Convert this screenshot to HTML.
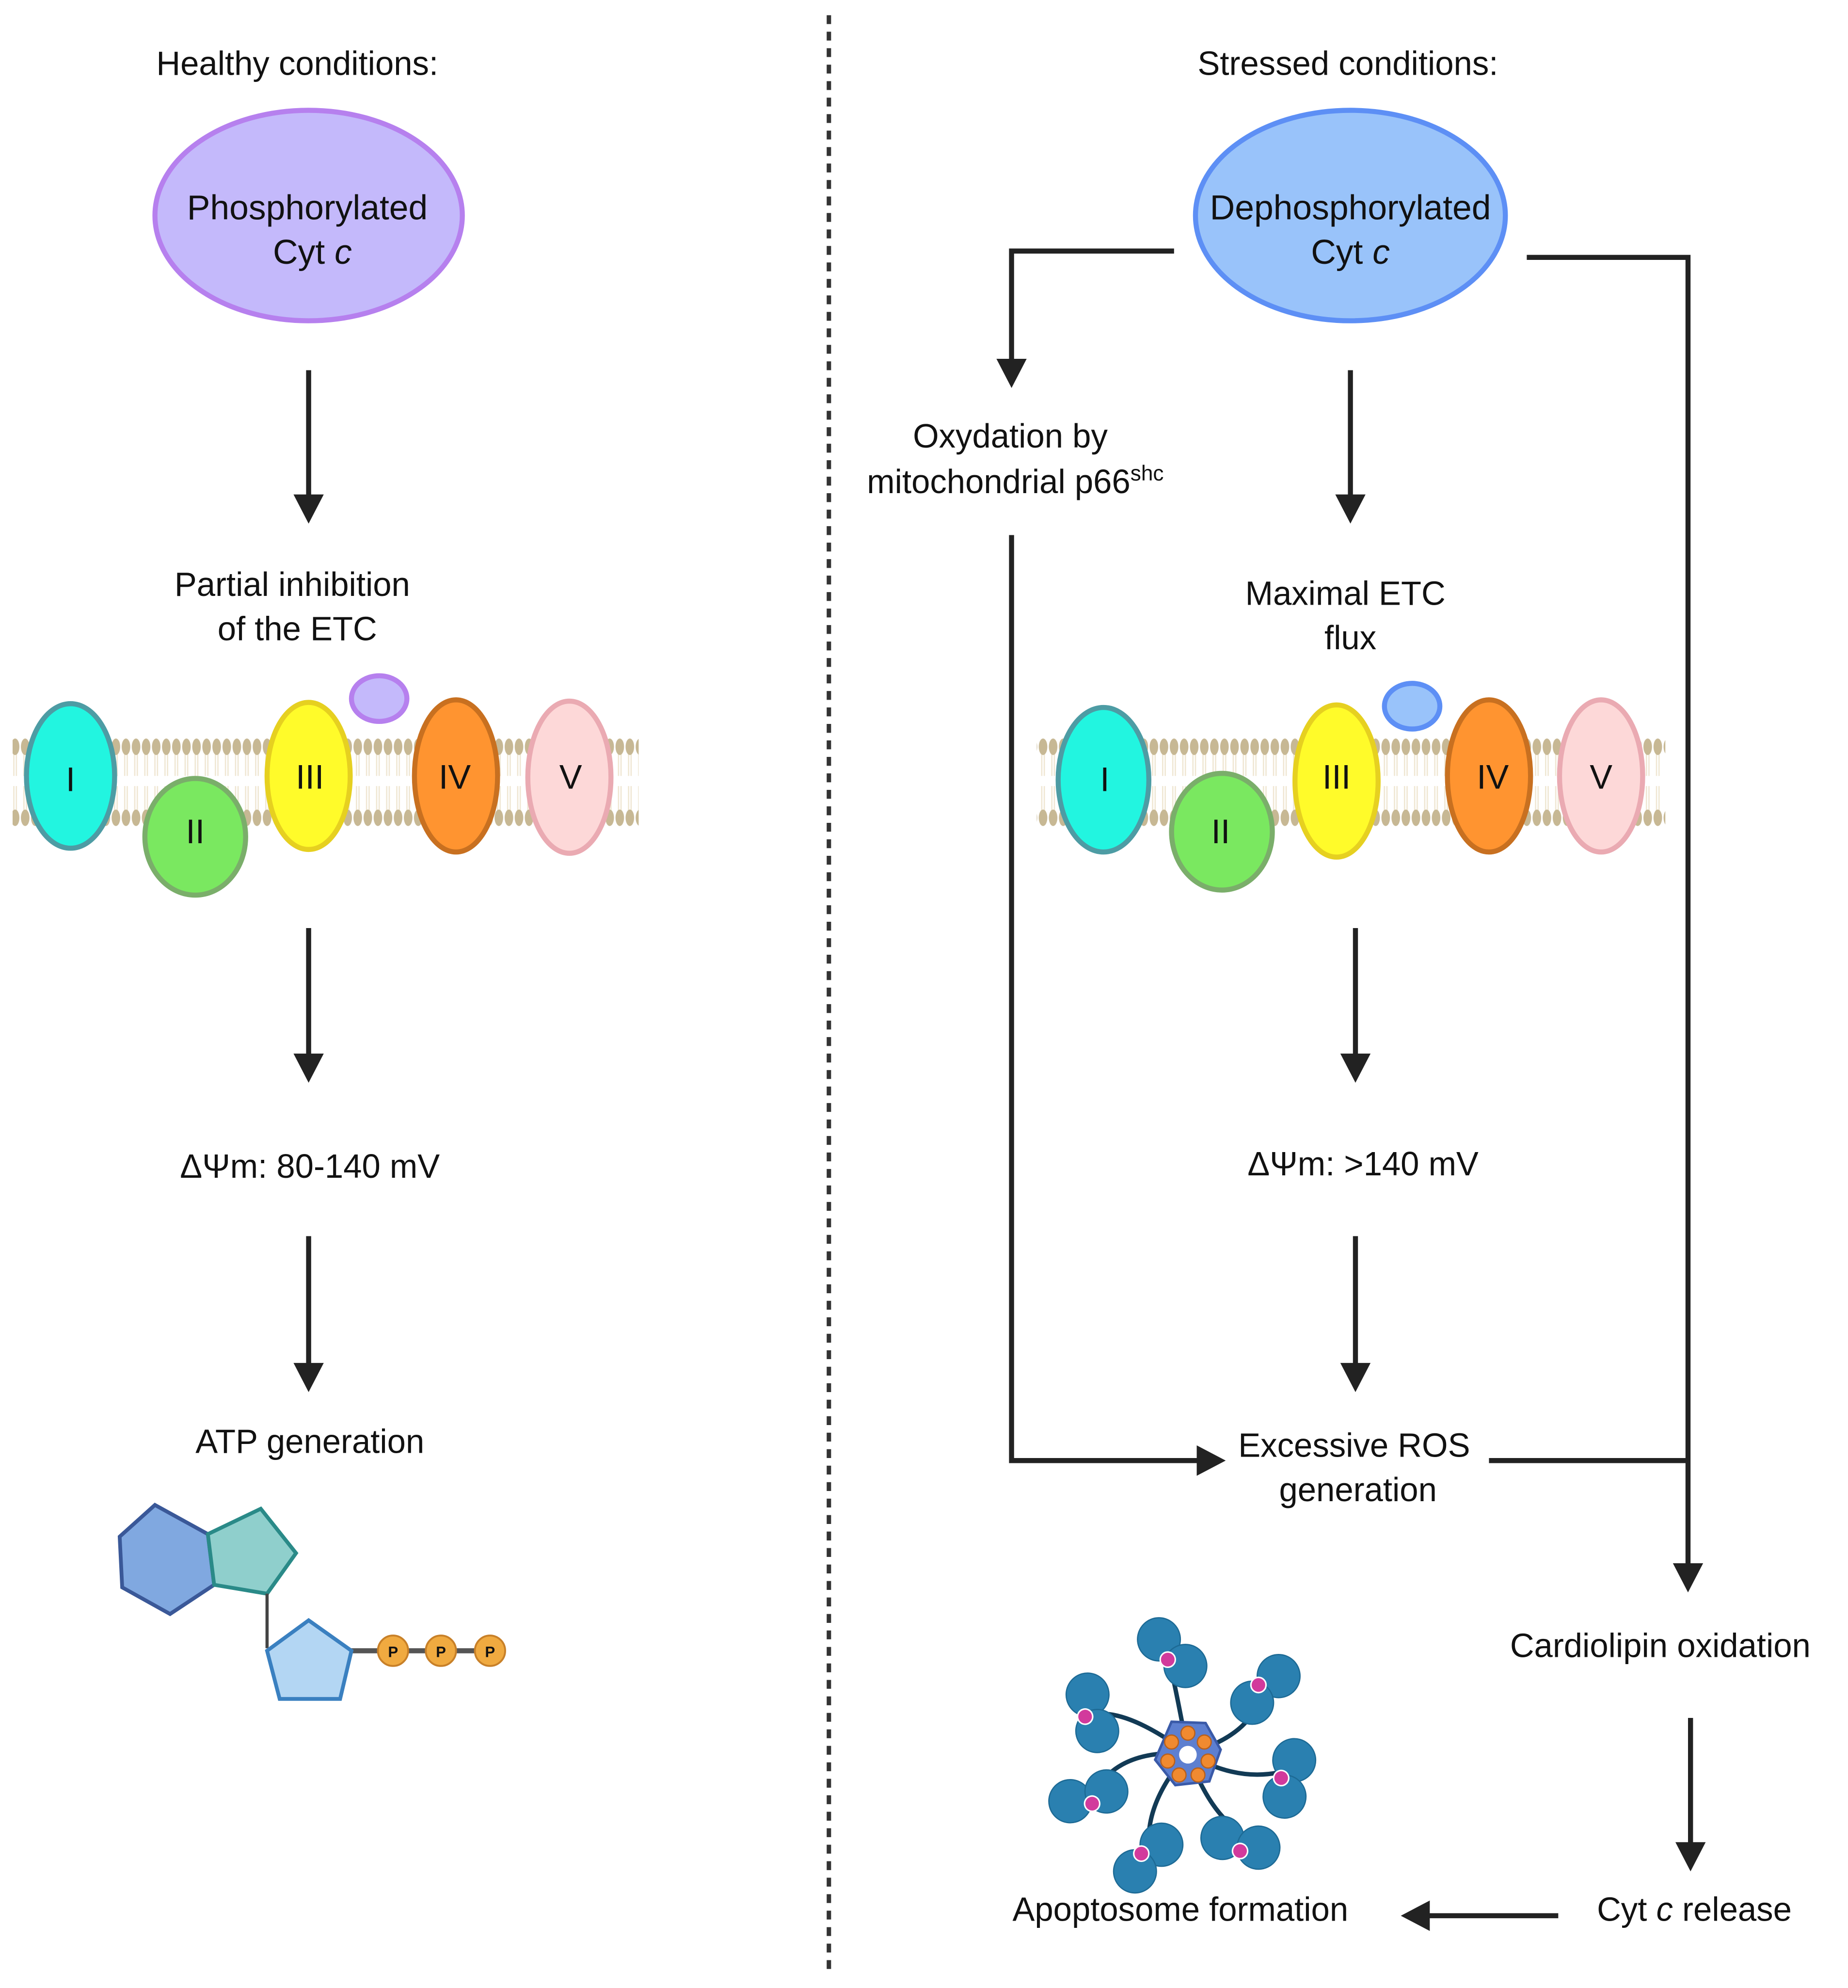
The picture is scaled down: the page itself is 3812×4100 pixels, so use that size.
<!DOCTYPE html>
<html><head><meta charset="utf-8"><style>
html,body{margin:0;padding:0;background:#fff;}
svg{display:block;}
text{font-family:"Liberation Sans",Arial,sans-serif;fill:#111;}
</style></head><body>
<svg width="3812" height="4100" viewBox="0 0 1467 1568" preserveAspectRatio="none" xmlns="http://www.w3.org/2000/svg">
<defs>
<pattern id="heads" x="0" y="582" width="8" height="70" patternUnits="userSpaceOnUse">
<line x1="3" y1="10" x2="3" y2="30" stroke="#efe6d2" stroke-width="1"/>
<line x1="5" y1="10" x2="5" y2="30" stroke="#efe6d2" stroke-width="1"/>
<line x1="3" y1="38" x2="3" y2="58" stroke="#efe6d2" stroke-width="1"/>
<line x1="5" y1="38" x2="5" y2="58" stroke="#efe6d2" stroke-width="1"/>
<ellipse cx="4" cy="7" rx="3.4" ry="6.5" fill="#c7b894"/>
<ellipse cx="4" cy="63" rx="3.4" ry="6.5" fill="#c7b894"/>
</pattern>
<g id="blob">
<circle cx="-10" cy="-12" r="17" fill="#2a80b0" stroke="#1d6a95" stroke-width="1"/>
<circle cx="11" cy="9" r="17" fill="#2a80b0" stroke="#1d6a95" stroke-width="1"/>
<circle cx="-3" cy="4" r="6" fill="#d23a9c" stroke="#fff" stroke-width="1.2"/>
</g>
</defs>
<rect width="1467" height="1568" fill="#fff"/>
<line x1="658" y1="12" x2="658" y2="1558" stroke="#333" stroke-width="3.5" stroke-dasharray="7,6"/>

<g font-size="26.5" text-anchor="middle">
<text x="236" y="59">Healthy conditions:</text>
<text x="1070" y="59">Stressed conditions:</text>
</g>

<ellipse cx="245" cy="170" rx="122" ry="83" fill="#c4b9fb" stroke="#b680ee" stroke-width="4"/>
<text x="244" y="173" font-size="27.5" text-anchor="middle">Phosphorylated</text>
<text x="248" y="208" font-size="27.5" text-anchor="middle">Cyt <tspan font-style="italic">c</tspan></text>
<ellipse cx="1072" cy="170" rx="123" ry="83" fill="#99c3fa" stroke="#5d8ff5" stroke-width="4"/>
<text x="1072" y="173" font-size="27.5" text-anchor="middle">Dephosphorylated</text>
<text x="1072" y="208" font-size="27.5" text-anchor="middle">Cyt <tspan font-style="italic">c</tspan></text>

<g stroke="#222" stroke-width="4" fill="none">
<line x1="245" y1="292" x2="245" y2="392"/>
<line x1="245" y1="732" x2="245" y2="833"/>
<line x1="245" y1="975" x2="245" y2="1077"/>
<line x1="1072" y1="292" x2="1072" y2="392"/>
<line x1="1076" y1="732" x2="1076" y2="833"/>
<line x1="1076" y1="975" x2="1076" y2="1077"/>
<polyline points="932,198 803,198 803,285"/>
<polyline points="1212,203 1340,203 1340,1235"/>
<polyline points="803,422 803,1152 952,1152"/>
<line x1="1182" y1="1152" x2="1340" y2="1152"/>
<line x1="1342" y1="1355" x2="1342" y2="1455"/>
<line x1="1237" y1="1511" x2="1133" y2="1511"/>
</g>
<g fill="#222">
<polygon points="233,390 257,390 245,413"/>
<polygon points="233,831 257,831 245,854"/>
<polygon points="233,1075 257,1075 245,1098"/>
<polygon points="1060,390 1084,390 1072,413"/>
<polygon points="1064,831 1088,831 1076,854"/>
<polygon points="1064,1075 1088,1075 1076,1098"/>
<polygon points="791,283 815,283 803,306"/>
<polygon points="1328,1233 1352,1233 1340,1256"/>
<polygon points="950,1140 950,1164 973,1152"/>
<polygon points="1330,1453 1354,1453 1342,1476"/>
<polygon points="1135,1499 1135,1523 1112,1511"/>
</g>

<g font-size="26.5" text-anchor="middle">
<text x="232" y="470">Partial inhibition</text>
<text x="236" y="505">of the ETC</text>
<text x="802" y="353">Oxydation by</text>
<text x="806" y="389">mitochondrial p66<tspan font-size="17" dy="-10">shc</tspan></text>
<text x="1068" y="477">Maximal ETC</text>
<text x="1072" y="512">flux</text>
<text x="246" y="929">ΔΨm: 80-140 mV</text>
<text x="1082" y="927">ΔΨm: &gt;140 mV</text>
<text x="246" y="1146">ATP generation</text>
<text x="1075" y="1149">Excessive ROS</text>
<text x="1078" y="1184">generation</text>
<text x="1318" y="1307">Cardiolipin oxidation</text>
<text x="1345" y="1515">Cyt <tspan font-style="italic">c</tspan> release</text>
<text x="937" y="1515">Apoptosome formation</text>
</g>

<!-- left membrane -->
<rect x="10" y="582" width="497" height="70" fill="url(#heads)"/>
<g stroke-width="4">
<ellipse cx="56" cy="612" rx="35" ry="57" fill="#22f5e0" stroke="#4d9ca4"/>
<ellipse cx="155" cy="660" rx="40" ry="46" fill="#7ae860" stroke="#7aae6a"/>
<ellipse cx="245" cy="612" rx="33" ry="58" fill="#fffb2a" stroke="#e6d020"/>
<ellipse cx="301" cy="551" rx="22" ry="18" fill="#c4b9fb" stroke="#b680ee"/>
<ellipse cx="362" cy="612" rx="33" ry="60" fill="#ff9430" stroke="#c87020"/>
<ellipse cx="452" cy="613" rx="33" ry="60" fill="#fdd8d8" stroke="#eaaab2"/>
</g>
<g font-size="27" text-anchor="middle">
<text x="56" y="624">I</text><text x="155" y="665">II</text><text x="246" y="622">III</text><text x="361" y="622">IV</text><text x="453" y="622">V</text>
</g>

<!-- right membrane -->
<rect x="823" y="582" width="499" height="70" fill="url(#heads)"/>
<g stroke-width="4">
<ellipse cx="876" cy="615" rx="36" ry="57" fill="#22f5e0" stroke="#4d9ca4"/>
<ellipse cx="970" cy="656" rx="40" ry="46" fill="#7ae860" stroke="#7aae6a"/>
<ellipse cx="1061" cy="616" rx="33" ry="60" fill="#fffb2a" stroke="#e6d020"/>
<ellipse cx="1121" cy="557" rx="22" ry="18" fill="#99c3fa" stroke="#5d8ff5"/>
<ellipse cx="1182" cy="612" rx="33" ry="60" fill="#ff9430" stroke="#c87020"/>
<ellipse cx="1271" cy="612" rx="33" ry="60" fill="#fdd8d8" stroke="#eaaab2"/>
</g>
<g font-size="27" text-anchor="middle">
<text x="877" y="624">I</text><text x="969" y="665">II</text><text x="1061" y="622">III</text><text x="1185" y="622">IV</text><text x="1271" y="622">V</text>
</g>

<!-- ATP -->
<polygon points="123,1187 165,1210 170,1250 135,1273 97,1252 95,1212" fill="#80a8e0" stroke="#3a5898" stroke-width="3"/>
<polygon points="165,1210 207,1190 235,1225 212,1257 170,1250" fill="#8fcfcc" stroke="#2a8a88" stroke-width="3"/>
<line x1="212" y1="1257" x2="212" y2="1300" stroke="#444" stroke-width="2.5"/>
<line x1="276" y1="1302" x2="390" y2="1302" stroke="#555" stroke-width="4"/>
<polygon points="245,1278 279,1302 270,1340 222,1340 212,1302" fill="#b3d6f3" stroke="#3a80c0" stroke-width="3"/>
<g fill="#f0aa40" stroke="#c88028" stroke-width="1.5">
<circle cx="312" cy="1302" r="12"/><circle cx="350" cy="1302" r="12"/><circle cx="389" cy="1302" r="12"/>
</g>
<g font-size="12" font-weight="bold" text-anchor="middle">
<text x="312" y="1307">P</text><text x="350" y="1307">P</text><text x="389" y="1307">P</text>
</g>

<!-- apoptosome -->
<g stroke="#123a55" stroke-width="3.5" fill="none">
<path d="M943,1383 Q935,1340 930,1318"/>
<path d="M943,1383 Q990,1370 1000,1340"/>
<path d="M943,1383 Q980,1405 1015,1398"/>
<path d="M943,1383 Q960,1430 985,1445"/>
<path d="M943,1383 Q910,1420 912,1455"/>
<path d="M943,1383 Q895,1380 875,1405"/>
<path d="M943,1383 Q905,1355 880,1352"/>
</g>
<use href="#blob" transform="translate(930,1305)"/>
<use href="#blob" transform="translate(1003,1332) rotate(90)"/>
<use href="#blob" transform="translate(1022,1403) rotate(60)"/>
<use href="#blob" transform="translate(985,1455) rotate(-30)"/>
<use href="#blob" transform="translate(910,1465) rotate(90)"/>
<use href="#blob" transform="translate(865,1418) rotate(-60)"/>
<use href="#blob" transform="translate(866,1352) rotate(30)"/>
<g>
<polygon points="930,1358 957,1359 969,1380 960,1405 933,1408 917,1388" fill="#5d7fd0" stroke="#3a5aa8" stroke-width="2"/>
<g fill="#f08a30" stroke="#b8601c" stroke-width="1">
<circle cx="943" cy="1367" r="5.5"/><circle cx="956" cy="1374" r="5.5"/><circle cx="959" cy="1389" r="5.5"/>
<circle cx="951" cy="1400" r="5.5"/><circle cx="936" cy="1400" r="5.5"/><circle cx="927" cy="1389" r="5.5"/><circle cx="930" cy="1374" r="5.5"/>
</g>
<circle cx="943" cy="1384" r="7" fill="#fff"/>
</g>
</svg>
</body></html>
